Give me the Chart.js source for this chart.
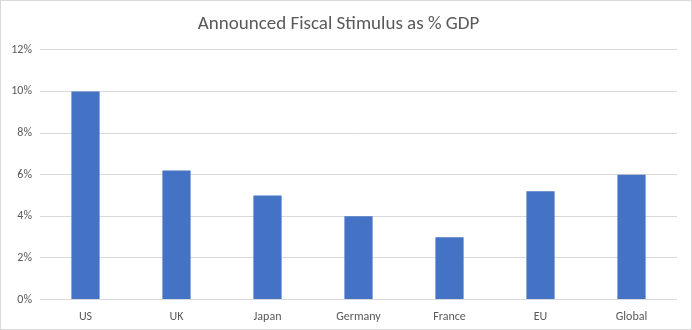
<!DOCTYPE html>
<html>
<head>
<meta charset="utf-8">
<script src="https://cdn.jsdelivr.net/npm/chart.js@4"></script>
<style>
  html, body { margin: 0; padding: 0; background: #fff; }
  #wrap { width: 692px; height: 330px; }
</style>
</head>
<body>
<div id="wrap"><canvas id="stimulus-chart" width="692" height="330"></canvas></div>
<script>
const countries = ["US", "UK", "Japan", "Germany", "France", "EU", "Global"];
const stimulusPct = [10, 6.2, 5, 4, 3, 5.2, 6];
const yTicks = [0, 2, 4, 6, 8, 10, 12];

const fontFamily = "Carlito, Calibri, Lato, 'Open Sans', sans-serif";

const borderPlugin = {
  id: "chartBorder",
  afterDraw(chart) {
    const ctx = chart.ctx;
    ctx.save();
    ctx.strokeStyle = "#d9d9d9";
    ctx.lineWidth = 1;
    ctx.strokeRect(0.5, 0.5, chart.width - 1, chart.height - 1);
    ctx.restore();
  },
};

const ctx = document.getElementById("stimulus-chart").getContext("2d");

new Chart(ctx, {
  type: "bar",
  plugins: [borderPlugin],
  data: {
    labels: countries,
    datasets: [
      {
        label: "Fiscal stimulus",
        data: stimulusPct,
        backgroundColor: "#4472C4",
        barPercentage: 0.31,
        categoryPercentage: 1,
      },
    ],
  },
  options: {
    responsive: false,
    animation: false,
    layout: { padding: { left: 0, right: 15, top: 8, bottom: 4 } },
    plugins: {
      legend: { display: false },
      tooltip: { enabled: false },
      title: {
        display: true,
        text: "Announced Fiscal Stimulus as % GDP",
        color: "#595959",
        font: { family: fontFamily, size: 19, weight: "normal" },
        padding: { top: 5, bottom: 14 },
      },
    },
    scales: {
      x: {
        grid: { display: false },
        border: { display: false },
        ticks: {
          color: "#595959",
          font: { family: fontFamily, size: 12 },
          padding: 2,
        },
      },
      y: {
        min: 0,
        max: 12,
        afterBuildTicks: (axis) => {
          axis.ticks = yTicks.map((v) => ({ value: v }));
        },
        afterFit: (axis) => {
          axis.width = 40;
        },
        grid: { color: "#d9d9d9", drawTicks: false },
        border: { display: false },
        ticks: {
          color: "#595959",
          font: { family: fontFamily, size: 12 },
          padding: 8,
          callback: (value) => value + "%",
        },
      },
    },
  },
});
</script>
</body>
</html>
